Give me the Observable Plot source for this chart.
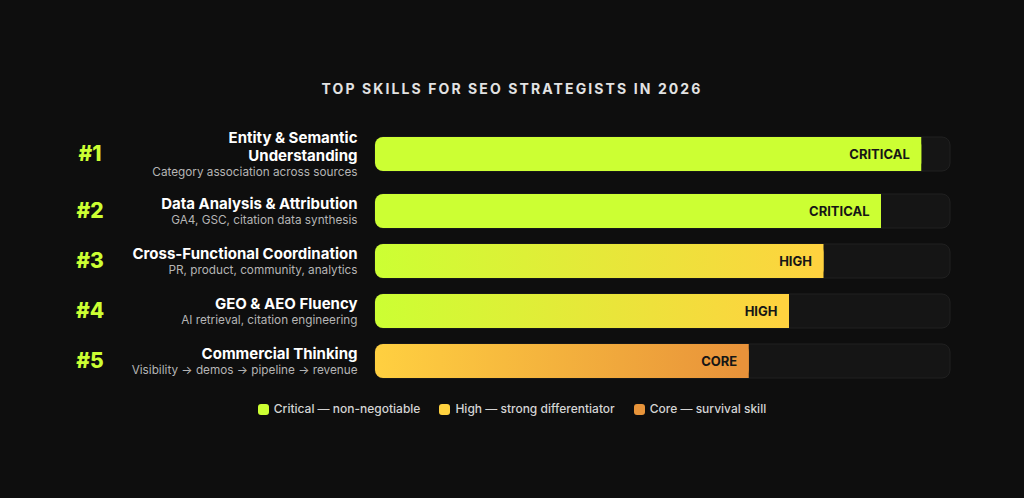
<!DOCTYPE html>
<html><head><meta charset="utf-8">
<script src="https://cdn.jsdelivr.net/npm/d3@7"></script>
<script src="https://cdn.jsdelivr.net/npm/@observablehq/plot@0.6"></script>
<style>
html,body{margin:0;background:#0e0e0e;}
body{width:1024px;height:498px;overflow:hidden;font-family:Inter,"Noto Sans",sans-serif;}
#title{padding-top:78px;line-height:22px;height:22px;text-align:center;color:#e2e2e2;font-size:14px;font-weight:700;letter-spacing:2.1px;}
#chart svg{display:block;}
#legend{margin-top:10px;display:flex;justify-content:center;gap:19px;line-height:18px;font-size:12px;color:#d4d4d4;font-weight:500;}
.item{display:flex;align-items:center;gap:5px;}
.sw{width:11px;height:11px;border-radius:3px;}
</style></head><body>
<div id="title"></div><div id="chart"></div><div id="legend"></div>
<script>
const titleText = "TOP SKILLS FOR SEO STRATEGISTS IN 2026";
const ranks = ["#1", "#2", "#3", "#4", "#5"];
const skills = ["Entity & Semantic\nUnderstanding", "Data Analysis & Attribution", "Cross-Functional Coordination", "GEO & AEO Fluency", "Commercial Thinking"];
const details = ["Category association across sources", "GA4, GSC, citation data synthesis", "PR, product, community, analytics", "AI retrieval, citation engineering", "Visibility \u2192 demos \u2192 pipeline \u2192 revenue"];
const scores = [95, 88, 78, 72, 65];
const levels = ["CRITICAL", "CRITICAL", "HIGH", "HIGH", "CORE"];

const levelKeys = ["CRITICAL", "HIGH", "CORE"];
const levelStart = ["#ccff33", "#ccff33", "#ffd040"];
const levelEnd = ["#ccff33", "#ffd23f", "#e8923a"];

const legendLabels = ["Critical \u2014 non-negotiable", "High \u2014 strong differentiator", "Core \u2014 survival skill"];
const legendColors = ["#ccff33", "#ffd23f", "#e8943a"];

document.getElementById("title").textContent = titleText;

const rows = ranks.map((r, i) => ({
  rank: r, skill: skills[i], detail: details[i], score: scores[i], level: levels[i],
  end: levelEnd[levelKeys.indexOf(levels[i])]
}));
let acc = 0;
rows.forEach(d => {
  d.lines = d.skill.split("\n").length;
  const h = 50 + 14 * (d.lines - 1);
  d.c = acc + h / 2;
  acc += h;
});
const total = acc;
const half = 17;

const plot = Plot.plot({
  width: 1024, height: 290,
  marginLeft: 0, marginRight: 0, marginTop: 0, marginBottom: 0,
  style: {background: "transparent", fontFamily: "Inter, 'Noto Sans', sans-serif"},
  x: {domain: [0, 100], range: [375, 950], axis: null},
  y: {domain: [0, total], range: [22, 22 + total], axis: null},
  color: {type: "identity"},
  marks: [
    Plot.rect(rows, {x1: 0, x2: 100, y1: d => d.c - half, y2: d => d.c + half, fill: "#151515", stroke: "#202020", rx: 8}),
    Plot.rect(rows, {x1: 0, x2: "score", y1: d => d.c - half, y2: d => d.c + half, fill: d => `url(#grad-${d.level})`, rx: 8}),
    Plot.rect(rows, {x1: d => d.score - 1.5, x2: "score", y1: d => d.c - half, y2: d => d.c + half, fill: "end"}),
    Plot.text(rows, {x: "score", y: "c", text: "level", textAnchor: "end", dx: -12, fill: "#161616", fontSize: 13, fontWeight: 700}),
    Plot.text(rows, {frameAnchor: "left", y: "c", dx: 89.5, text: "rank", textAnchor: "middle", fill: "#ccff33", fontSize: 21, fontWeight: 800}),
    Plot.text(rows, {x: 0, y: d => d.c - 8.75, dx: -18, text: "skill", textAnchor: "end", lineAnchor: "middle", lineHeight: 1.2, fill: "#ffffff", fontSize: 15, fontWeight: 700}),
    Plot.text(rows, {x: 0, y: d => d.c + 8.75 * d.lines, dx: -18, text: "detail", textAnchor: "end", fill: "#b5b5b5", fontSize: 11.75})
  ]
});

const defs = d3.select(plot).insert("defs", ":first-child");
levelKeys.forEach((k, i) => {
  const g = defs.append("linearGradient").attr("id", "grad-" + k).attr("x1", 0).attr("x2", 1).attr("y1", 0).attr("y2", 0);
  g.append("stop").attr("offset", 0).attr("stop-color", levelStart[i]);
  g.append("stop").attr("offset", 1).attr("stop-color", levelEnd[i]);
});
document.getElementById("chart").appendChild(plot);

const legend = document.getElementById("legend");
legendLabels.forEach((l, i) => {
  const it = document.createElement("div");
  it.className = "item";
  const sw = document.createElement("span");
  sw.className = "sw";
  sw.style.background = legendColors[i];
  const tx = document.createElement("span");
  tx.textContent = l;
  it.appendChild(sw); it.appendChild(tx);
  legend.appendChild(it);
});
</script>
</body></html>
